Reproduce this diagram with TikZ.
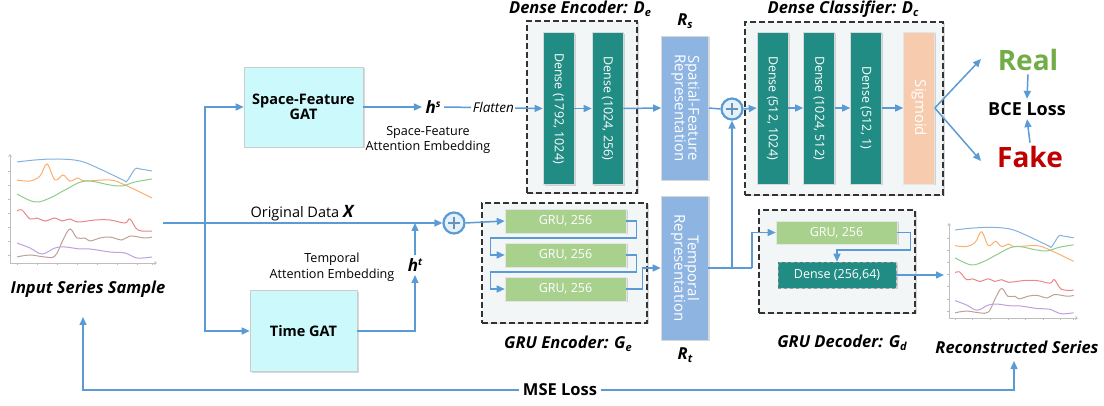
\documentclass[tikz,border=0pt]{standalone}
\usepackage{fontspec}
\setmainfont{Open Sans}
\usetikzlibrary{arrows.meta,shadows,calc}
\definecolor{arr}{RGB}{91,155,213}
\definecolor{tealb}{RGB}{33,140,132}
\definecolor{grn}{RGB}{169,209,142}
\definecolor{repb}{RGB}{142,180,226}
\definecolor{peach}{RGB}{246,203,174}
\definecolor{gatc}{RGB}{204,250,252}
\definecolor{dashfill}{RGB}{242,246,246}
\definecolor{realg}{RGB}{112,173,71}
\definecolor{faker}{RGB}{192,0,0}
\definecolor{axg}{RGB}{190,190,190}
\definecolor{cblue}{RGB}{130,178,222}
\definecolor{corange}{RGB}{253,174,107}
\definecolor{cgreen}{RGB}{140,205,140}
\definecolor{cred}{RGB}{232,134,136}
\definecolor{cbrown}{RGB}{190,160,150}
\definecolor{cpurple}{RGB}{190,160,220}
\newcommand{\fs}[1]{\fontsize{#1}{#1}\selectfont}
\newcommand{\seriesplot}{%
  \draw[axg,line width=0.8pt,-{Straight Barb[length=2pt,width=3pt]}] (0,109) -- (0,0);
  \draw[axg,line width=0.8pt,-{Straight Barb[length=2pt,width=3pt]}] (0,109) -- (147,109);
  \foreach \ty in {17,31,45,59,73,87,101} {\draw[axg,line width=0.5pt] (-2,\ty) -- (0,\ty);}
  \foreach \tx in {7,27,47,67,87,107,127,142} {\draw[axg,line width=0.5pt] (\tx,109) -- (\tx,111);}
  \draw[cblue,sline] plot[smooth,tension=0.6] coordinates {(7,8) (25,6) (47,5) (70,7) (90,15) (113,26) (117,27) (125,15) (130,15) (142,17)};
  \draw[corange,sline] plot[smooth,tension=0.6] coordinates {(7,26) (20,27) (30,22) (37,10) (45,26) (53,21) (60,27) (68,24) (75,27) (100,26) (115,31) (142,44)};
  \draw[cgreen,sline] plot[smooth,tension=0.6] coordinates {(7,40) (25,48) (40,44) (55,36) (75,27) (100,31) (112,32) (125,28) (142,25)};
  \draw[cred,sline] plot[smooth,tension=0.6] coordinates {(7,57) (12,56) (20,65) (27,64) (35,67) (45,64) (52,67) (60,65) (68,68) (85,66) (100,66) (115,69) (120,65) (128,76) (142,77)};
  \draw[cbrown,sline] plot[smooth,tension=0.6] coordinates {(7,103) (20,101) (35,103) (45,102) (53,86) (60,75) (67,84) (75,84) (80,87) (90,84) (100,83) (112,86) (120,82) (135,84) (142,83)};
  \draw[cpurple,sline] plot[smooth,tension=0.6] coordinates {(7,89) (20,94) (32,100) (45,94) (55,93) (70,95) (80,95) (100,98) (115,99) (127,104) (142,103)};
}
\begin{document}
\begin{tikzpicture}[x=1pt,y=-1pt,
  arrow/.style={draw=arr,line width=1.5pt,-{Triangle[length=8pt,width=7pt]}},
  wire/.style={draw=arr,line width=1.5pt},
  sline/.style={line width=1pt},
  shad/.style={drop shadow={shadow xshift=1.5pt,shadow yshift=-1.5pt,opacity=0.25,fill=black!60}},
  gat/.style={draw=black!20,fill=gatc,line width=0.6pt,shad,font=\fs{14.5}\bfseries,align=center,inner sep=0pt},
  dbox/.style={draw=black!80,dash pattern=on 6pt off 3pt,line width=1.2pt,fill=dashfill,shad,inner sep=0pt},
  dense/.style={draw=black!15,fill=tealb,text=white,line width=0.6pt,shad,font=\fs{12.5},inner sep=0pt,minimum width=31pt,minimum height=152pt},
  gru/.style={draw=black!10,fill=grn,text=white,line width=0.6pt,shad,font=\fs{12.5},inner sep=0pt,minimum width=121pt,minimum height=24pt},
  rep/.style={draw=black!15,fill=repb,text=white,line width=0.6pt,shad,font=\fs{15},inner sep=0pt,minimum width=47pt,minimum height=144pt},
  ttl/.style={font=\fs{16.5}\bfseries\itshape},
  plus/.style={circle,draw=arr,line width=2.2pt,fill=arr!15,minimum size=21pt,inner sep=0pt,
    path picture={\draw[line width=2.2pt,color=arr!70!gray] ([xshift=-6pt]path picture bounding box.center) -- ([xshift=6pt]path picture bounding box.center);
                  \draw[line width=2.2pt,color=arr!70!gray] ([yshift=-6pt]path picture bounding box.center) -- ([yshift=6pt]path picture bounding box.center);}},
]
\useasboundingbox (0,0) rectangle (1104,406);

% input series plot
\begin{scope}[shift={(10,154)}]
\seriesplot
\end{scope}
\node[ttl] (inlbl) at (88,289) {Input Series Sample};

% reconstructed series plot
\begin{scope}[shift={(949,223)},xscale=0.878,yscale=0.872]
\seriesplot
\end{scope}
\node[ttl] (reclbl) at (1017,347) {Reconstructed Series};

% GAT boxes
\node[gat,minimum width=119pt,minimum height=80pt] (sgat) at (303.5,107) {Space-Feature\\[1pt]GAT};
\node[gat,minimum width=107pt,minimum height=81pt] (tgat) at (303.5,331) {Time GAT};

\node[font=\fs{17}\bfseries\itshape] (hs) at (433,107) {h\raisebox{5.5pt}{\fs{10}s}};
\node[font=\fs{12.6},align=center] (hslbl) at (428,140) {Space-Feature\\[3pt]Attention Embedding};
\node[font=\fs{17}\bfseries\itshape] (ht) at (415,265) {h\raisebox{5.5pt}{\fs{10}t}};
\node[font=\fs{12.6},align=center] (htlbl) at (332,267) {Temporal\\[3pt]Attention Embedding};

% plus nodes
\node[plus] (p1) at (454,223) {};
\node[plus] (p2) at (732,109) {};

% dense encoder
\node[dbox,minimum width=110pt,minimum height=172pt] (denc) at (582,107) {};
\node[ttl] (denct) at (580,9) {Dense Encoder: D\raisebox{-3pt}{\fs{11}e}};
\node[dense] (e1) at (558.5,108.5) {\rotatebox{-90}{Dense (1792, 1024)}};
\node[dense] (e2) at (607.5,108.5) {\rotatebox{-90}{Dense (1024, 256)}};

% representations
\node[rep] (srep) at (685,108) {\rotatebox{-90}{\begin{tabular}{@{}c@{}}Spatial-Feature\\[-2pt]Representation\end{tabular}}};
\node[rep] (trep) at (684.5,268) {\rotatebox{-90}{\begin{tabular}{@{}c@{}}Temporal\\[-2pt]Representation\end{tabular}}};
\node[font=\fs{16.5}\bfseries\itshape] (rs) at (685,21) {R\raisebox{-3pt}{\fs{11}s}};
\node[font=\fs{16.5}\bfseries\itshape] (rt) at (685,355) {R\raisebox{-3pt}{\fs{11}t}};

% GRU encoder
\node[dbox,minimum width=165pt,minimum height=120pt] (genc) at (564.5,263) {};
\node[ttl] (genct) at (568,344) {GRU Encoder: G\raisebox{-3pt}{\fs{11}e}};
\node[gru] (g1) at (565.5,221) {GRU, 256};
\node[gru] (g2) at (565.5,255) {GRU, 256};
\node[gru] (g3) at (565.5,289) {GRU, 256};

% dense classifier
\node[dbox,minimum width=198pt,minimum height=173pt] (dcls) at (844,108.5) {};
\node[ttl] (dclst) at (843,9) {Dense Classifier: D\raisebox{-3pt}{\fs{11}c}};
\node[dense] (c1) at (772.5,108) {\rotatebox{-90}{Dense (512, 1024)}};
\node[dense] (c2) at (819,108) {\rotatebox{-90}{Dense (1024, 512)}};
\node[dense] (c3) at (866,108) {\rotatebox{-90}{Dense (512, 1)}};
\node[dense,fill=peach,draw=black!10,font=\fs{15}] (sig) at (919,108) {\rotatebox{-90}{Sigmoid}};

% GRU decoder
\node[dbox,minimum width=156pt,minimum height=103pt] (gdec) at (837,261.5) {};
\node[ttl] (gdect) at (842,343) {GRU Decoder: G\raisebox{-3pt}{\fs{11}d}};
\node[gru,minimum height=23pt] (dg) at (836.5,232.5) {GRU, 256};
\node[dense,minimum width=118pt,minimum height=26pt,draw=black!40,dashed,line width=0.6pt] (dd) at (837,275) {Dense (256,64)};

% outputs
\node[font=\fs{28}\bfseries,text=realg] (real) at (1028,60) {Real};
\node[font=\fs{18}\bfseries] (bce) at (1027,109) {BCE Loss};
\node[font=\fs{28}\bfseries,text=faker] (fake) at (1030,157) {Fake};

% coordinates
\coordinate (inR) at (163,223);
\coordinate (split) at (205,223);
\coordinate (xj) at (415,223);
\coordinate (tj) at (732,268);
\coordinate (dj) at (752,268);
\coordinate (recL) at (944,275);
\coordinate (rA) at (981,59);
\coordinate (fA) at (981,161);
\coordinate (mseL) at (83,317);
\coordinate (mseR) at (1014,361);
\node[font=\fs{16.5}\bfseries] (mse) at (560,390) {MSE Loss};

% connectors
\draw[wire] (inR) -- (split);
\draw[arrow] (split) -- (p1.west);
\node[font=\fs{14.5},anchor=base] (odl) at (302,218) {Original Data \fs{17}\bfseries\itshape X};
\draw[arrow] (split) |- (sgat.west);
\draw[arrow] (split) |- (tgat.west);
\draw[arrow] (sgat.east) -- (hs.west);
\draw[arrow] (hs.east) -- node[fill=white,inner sep=1.5pt,font=\fs{13.5}\itshape,pos=0.5] (flat) {Flatten} (e1.west);
\draw[arrow] (e1.east) -- (e2.west);
\draw[arrow] (e2.east) -- (srep.west);
\draw[wire] (srep.east) -- (p2.west);
\draw[arrow] (p2.east) -- (c1.west);
\draw[arrow] (c1.east) -- (c2.west);
\draw[arrow] (c2.east) -- (c3.west);
\draw[arrow] (c3.east) -- (sig.west);
\draw[arrow] (sig.east) -- (rA);
\draw[arrow] (sig.east) -- (fA);
\draw[arrow] (real.south) -- (bce.north);
\draw[arrow] (fake.north) -- (bce.south);
\draw[arrow] (tgat.east) -| (ht.south);
\draw[arrow] (ht.north) -- (xj);
\draw[arrow] (p1.east) -- (g1.west);
\draw[arrow] (g1.east) -- ++(10,0) -- ++(0,17) -| ($(g2.west)+(-14,0)$) -- (g2.west);
\draw[arrow] (g2.east) -- ++(10,0) -- ++(0,17) -| ($(g3.west)+(-14,0)$) -- (g3.west);
\draw[arrow] (g3.east) -- ++(16,0) |- (trep.west);
\draw[wire] (trep.east) -- (dj);
\draw[arrow] (tj) -- (p2.south);
\draw[arrow] (dj) |- (dg.west);
\draw[arrow] (dg.east) -- ++(13,0) -- ++(0,17.5) -| (dd.north);
\draw[arrow] (dd.east) -- (recL);
\draw[arrow] (mse.west) -| (mseL);
\draw[arrow] (mse.east) -| (mseR);
\end{tikzpicture}
\end{document}
